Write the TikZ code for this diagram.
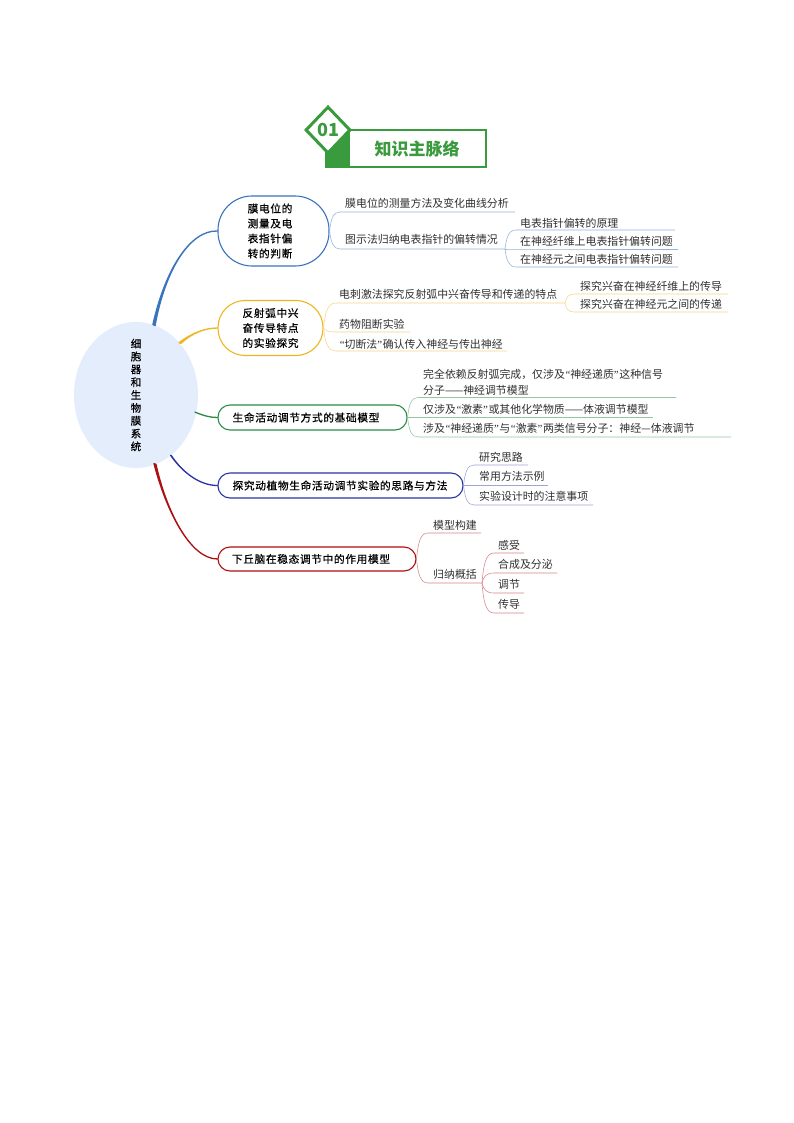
\documentclass[tikz,border=0pt]{standalone}
\usepackage{fontspec}
\usetikzlibrary{shapes.geometric,calc}
\setmainfont{Noto Sans CJK SC}
\newfontfamily\cjkplain{Noto Sans CJK SC}
\newfontfamily\cjkspaced[LetterSpace=6,FakeBold=0.5]{Noto Sans CJK SC}
\newfontfamily\cjkhub[FakeBold=0.7]{Noto Sans CJK SC}
\newfontfamily\latinq{Liberation Serif}
\newcommand\qL{{\latinq\kern0.6pt “}}
\newcommand\qR{{\latinq ”\kern0.6pt}}
\definecolor{hgreen}{HTML}{3A9A3E}
\definecolor{hubfill}{HTML}{E3EDFB}
\definecolor{cblue}{HTML}{3B74BE}
\definecolor{cgold}{HTML}{EDB722}
\definecolor{cgreen}{HTML}{2E8B4C}
\definecolor{cnavy}{HTML}{2A34A6}
\definecolor{cred}{HTML}{AE0F12}
\definecolor{txt}{HTML}{303030}
\tikzset{
  mainbox/.style={draw,line width=1.1pt,fill=white,text=black,inner sep=0pt,align=center,
    font=\cjkspaced\fontsize{10.7}{15}\selectfont},
  leaf/.style={anchor=west,inner sep=0pt,text=txt,font=\cjkplain\fontsize{10.9}{15.7}\selectfont,align=left},
  twig/.style={line width=0.55pt},
  tblue/.style={twig,draw=cblue!55},
  tgold/.style={twig,draw=cgold!55},
  tgreen/.style={twig,draw=cgreen!50},
  tnavy/.style={twig,draw=cnavy!45},
  tred/.style={twig,draw=cred!50},
}
% root, curve end x, line y, line end x, style, name of far end
\newcommand\twigline[6]{%
  \coordinate (#6s) at (#2,#3);
  \coordinate (#6) at (#4,#3);
  \draw[#5] (#1) .. controls ($(#1)!0.65!(#1 |- #6s)+(1.5,0)$) and ($(#6s)!0.65!(#1 |- #6s)$) .. (#6s) -- (#6);
}
% tapered main connector: start, control, control, end, colour, half width
\newcommand\taper[6]{%
  \draw[draw=#5,fill=#5,line width=1.3pt,line join=round]
    ($(#1)+(-#6,-#6*0.4)$) .. controls (#2) and (#3) .. (#4)
    .. controls (#3) and (#2) .. ($(#1)+(#6,#6*0.4)$) -- cycle;
}
\begin{document}
\begin{tikzpicture}[x=1pt,y=-1pt]
\useasboundingbox (0,0) rectangle (794,1123);
\fill[white] (0,0) rectangle (794,1123);

% header
\node[draw=hgreen,line width=2.4pt,fill=white,minimum width=160pt,minimum height=37pt,inner sep=0pt,
  text=hgreen,font=\cjkplain\bfseries\fontsize{17}{20}\selectfont,text depth=0pt] (title) at (406,148.5) {\hspace*{22pt}知识主脉络};
\fill[hgreen] (325,129) rectangle (350,168);
\node[diamond,draw=hgreen,line width=3pt,fill=white,minimum width=45pt,minimum height=47pt,inner sep=0pt,
  text=hgreen,font=\cjkplain\bfseries\fontsize{18}{20}\selectfont] (num) at (328,130) {01};

% centre
\node[ellipse,fill=hubfill,minimum width=124pt,minimum height=146pt,inner sep=-9pt,align=center,
  font=\cjkhub\fontsize{10.5}{12.85}\selectfont,text=black] (hub) at (136,395)
  {细\\胞\\器\\和\\生\\物\\膜\\系\\统};

% main boxes
\node[mainbox,draw=cblue,rounded corners=34pt,minimum width=111pt,minimum height=70pt] (b1) at (273.5,231)
  {\hspace*{-7pt}膜电位的\\\hspace*{-7pt}测量及电\\\hspace*{-7pt}表指针偏\\\hspace*{-7pt}转的判断};
\node[mainbox,draw=cgold,rounded corners=27pt,minimum width=105pt,minimum height=55pt] (b2) at (270.5,328) {反射弧中兴\\奋传导特点\\的实验探究};
\node[mainbox,draw=cgreen,rounded corners=12pt,minimum width=189pt,minimum height=25pt] (b3) at (312.5,417.5) {生命活动调节方式的基础模型\hspace*{13pt}};
\node[mainbox,draw=cnavy,rounded corners=12pt,minimum width=245pt,minimum height=25pt] (b4) at (340.5,485.5) {探究动植物生命活动调节实验的思路与方法\hspace*{1pt}};
\node[mainbox,draw=cred,rounded corners=12pt,minimum width=198pt,minimum height=24pt] (b5) at (317,559) {\hspace*{-12pt}下丘脑在稳态调节中的作用模型};

% main connectors
\coordinate (h1) at (154,325);
\coordinate (h2) at (180,343);
\coordinate (h3) at (196,412.5);
\coordinate (h4) at (171,455.5);
\coordinate (h5) at (155,464);
\taper{h1}{165,270}{190,230}{b1.west}{cblue}{1.1}
\taper{h2}{192,333}{205,328}{b2.west}{cgold}{0.9}
\taper{h3}{203,415.5}{210,417.5}{b3.west}{cgreen}{1.0}
\taper{h4}{183,473}{200,485.5}{b4.west}{cnavy}{0.3}
\taper{h5}{166,510}{190,559}{b5.west}{cred}{1.0}

% branch 1
\twigline{b1.east}{340}{212}{515}{tblue}{e11}
\twigline{b1.east}{340}{249}{505}{tblue}{e12}
\node[leaf] (t11) at (345,203) {膜电位的测量方法及变化曲线分析};
\node[leaf] (t12) at (345,239.5) {图示法归纳电表指针的偏转情况};
\twigline{e12}{516}{230}{675}{tblue}{e121}
\twigline{e12}{516}{249}{678}{tblue}{e122}
\twigline{e12}{516}{267}{678}{tblue}{e123}
\node[leaf] (t121) at (520,223) {电表指针偏转的原理};
\node[leaf] (t122) at (520,241) {在神经纤维上电表指针偏转问题};
\node[leaf] (t123) at (520,259) {在神经元之间电表指针偏转问题};

% branch 2
\twigline{b2.east}{336}{303}{565}{tgold}{e21}
\twigline{b2.east}{336}{332}{410}{tgold}{e22}
\twigline{b2.east}{336}{351}{507}{tgold}{e23}
\node[leaf] (t21) at (339,294) {电刺激法探究反射弧中兴奋传导和传递的特点};
\node[leaf] (t22) at (339,324) {药物阻断实验};
\node[leaf] (t23) at (339,344) {\qL 切断法\qR 确认传入神经与传出神经};
\twigline{e21}{574}{294}{728}{tgold}{e211}
\twigline{e21}{574}{312}{728}{tgold}{e212}
\node[leaf] (t211) at (580,286.5) {探究兴奋在神经纤维上的传导};
\node[leaf] (t212) at (580,304) {探究兴奋在神经元之间的传递};

% branch 3
\twigline{b3.east}{418}{397.5}{676}{tgreen}{e31}
\twigline{b3.east}{418}{417.5}{653}{tgreen}{e32}
\twigline{b3.east}{418}{437}{731}{tgreen}{e33}
\node[leaf] (t31) at (423,382) {完全依赖反射弧完成，仅涉及\qL 神经递质\qR 这种信号\\分子——神经调节模型};
\node[leaf] (t32) at (423,409) {仅涉及\qL 激素\qR 或其他化学物质——体液调节模型};
\node[leaf] (t33) at (423,428) {涉及\qL 神经递质\qR 与\qL 激素\qR 两类信号分子：神经—体液调节};

% branch 4
\twigline{b4.east}{474}{465}{528}{tnavy}{e41}
\twigline{b4.east}{474}{485.5}{548}{tnavy}{e42}
\twigline{b4.east}{474}{505}{593}{tnavy}{e43}
\node[leaf] (t41) at (479,457) {研究思路};
\node[leaf] (t42) at (479,476) {常用方法示例};
\node[leaf] (t43) at (479,496) {实验设计时的注意事项};

% branch 5
\twigline{b5.east}{428}{533}{481}{tred}{e51}
\twigline{b5.east}{428}{583}{482}{tred}{e52}
\node[leaf] (t51) at (433,525) {模型构建};
\node[leaf] (t52) at (433,574) {归纳概括};
\twigline{e52}{494}{553}{524}{tred}{e521}
\twigline{e52}{494}{573}{557}{tred}{e522}
\twigline{e52}{494}{593}{524}{tred}{e523}
\twigline{e52}{494}{613}{524}{tred}{e524}
\node[leaf] (t521) at (498,545) {感受};
\node[leaf] (t522) at (498,564.5) {合成及分泌};
\node[leaf] (t523) at (498,584) {调节};
\node[leaf] (t524) at (498,604) {传导};
\end{tikzpicture}
\end{document}
